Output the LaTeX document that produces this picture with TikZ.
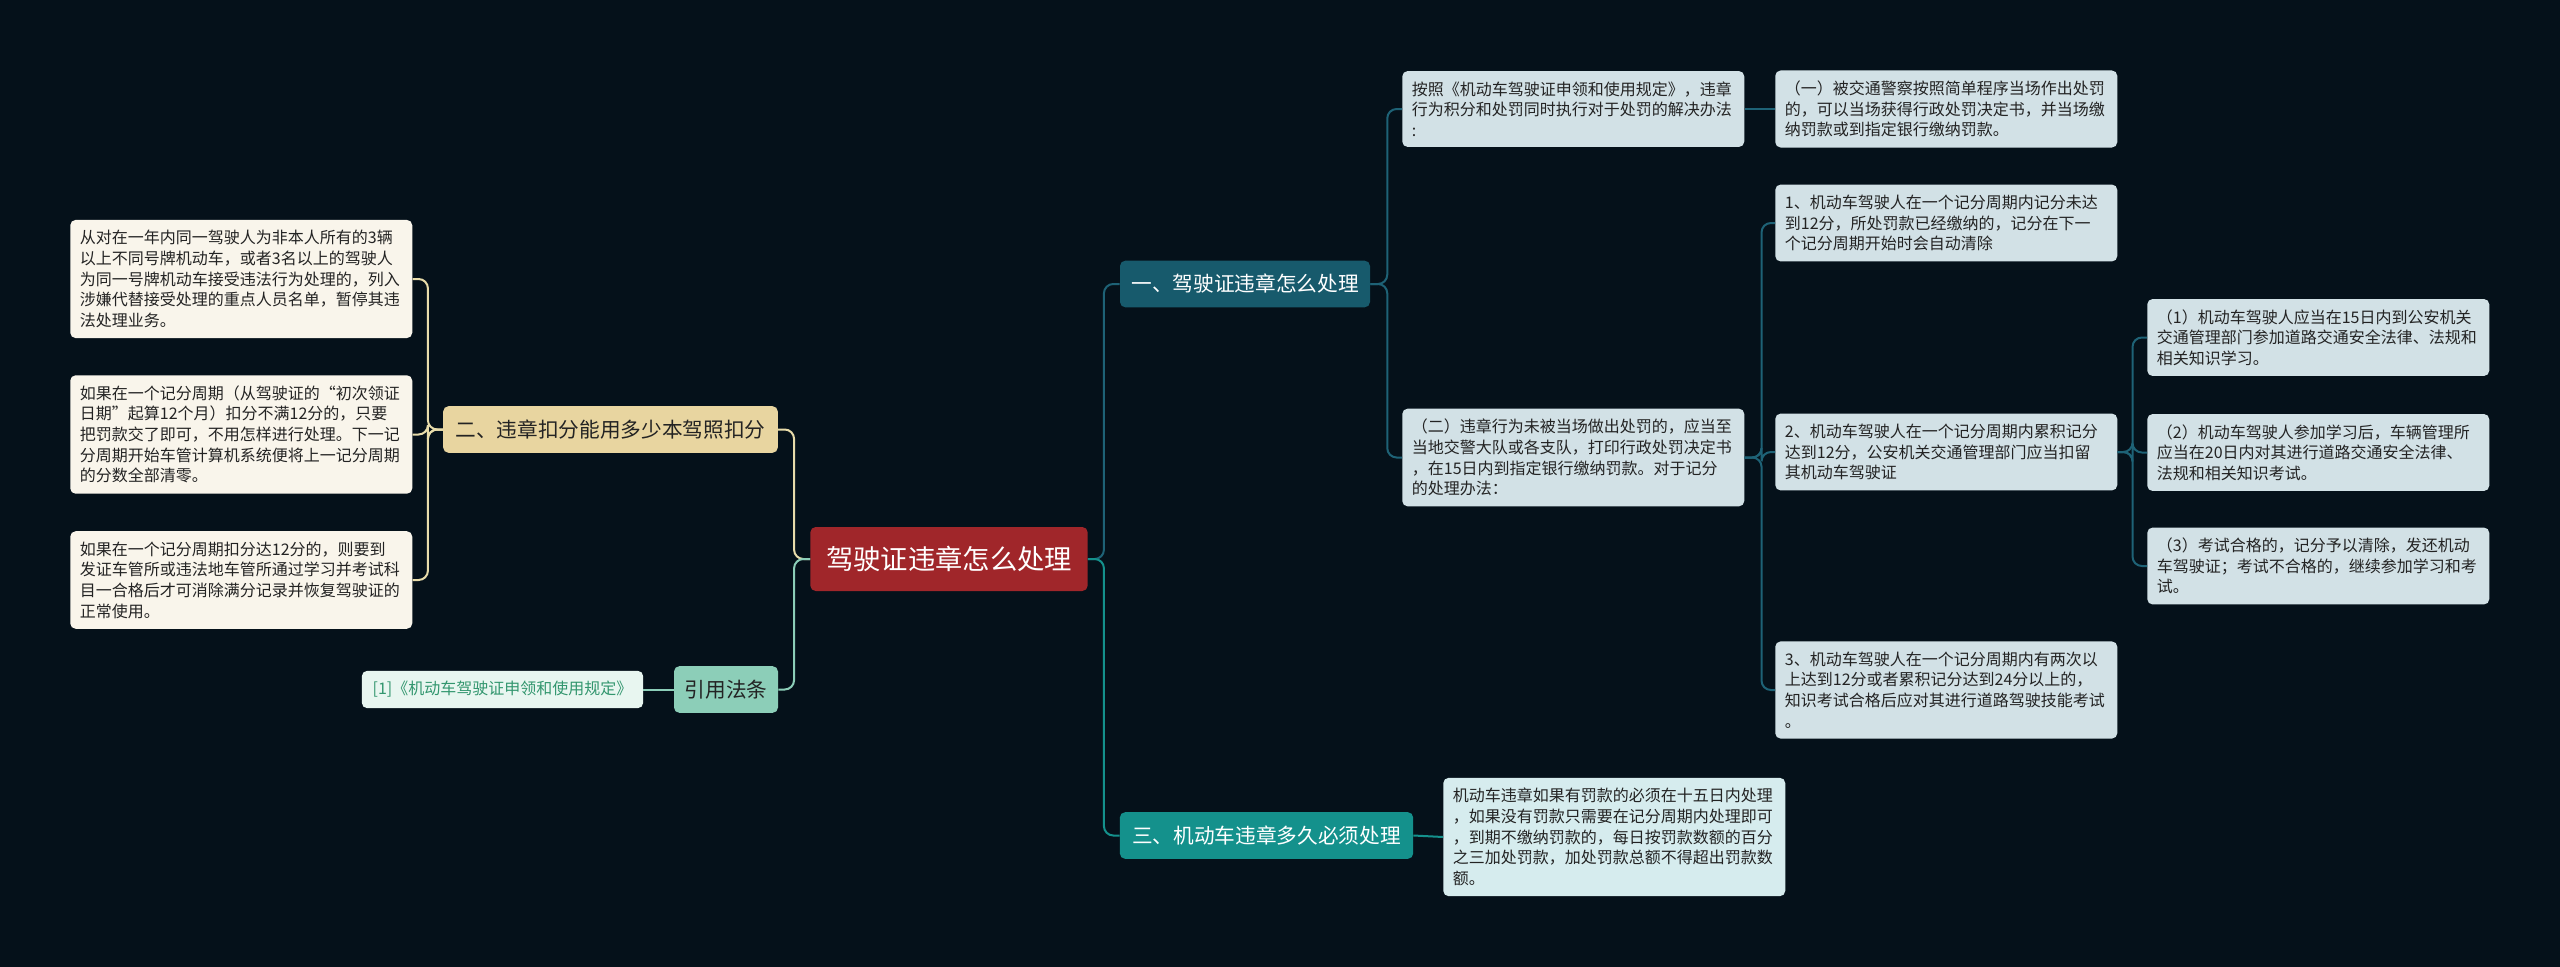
\documentclass[tikz,border=0pt]{standalone}
\usepackage{fontspec}
\setmainfont{Noto Sans CJK SC}
\usetikzlibrary{positioning,calc}
\definecolor{bgnavy}{RGB}{5,17,26}
\definecolor{rootred}{RGB}{160,38,42}
\definecolor{topicdark}{RGB}{23,90,108}
\definecolor{topicteal}{RGB}{20,145,140}
\definecolor{topictan}{RGB}{232,213,160}
\definecolor{topicmint}{RGB}{140,206,184}
\definecolor{linedark}{RGB}{30,98,118}
\definecolor{linetan}{RGB}{232,220,170}
\definecolor{leafblue}{RGB}{210,225,230}
\definecolor{leafcyan}{RGB}{214,236,238}
\definecolor{leafcream}{RGB}{249,245,235}
\definecolor{leafmint}{RGB}{232,246,240}
\definecolor{refgreen}{RGB}{50,150,110}
\definecolor{inkdark}{RGB}{35,35,35}
\tikzset{
  rootbox/.style={rounded corners=4pt, fill=rootred, text=white, minimum width=208pt, minimum height=48pt,
                  font=\fontsize{20.5}{24}\selectfont},
  topicbox/.style={rounded corners=4pt, minimum height=35pt, inner xsep=6pt, font=\fontsize{15.5}{18}\selectfont},
  leafbox/.style={rounded corners=4pt, fill=leafblue, text=inkdark, text width=242pt, align=left,
                  inner xsep=7.25pt, inner ysep=7.75pt, anchor=west, font=\fontsize{12}{15.5}\selectfont},
  link/.style={line width=1.5pt, rounded corners=7pt},
  linkdark/.style={link, draw=linedark},
  linkteal/.style={link, draw=topicteal},
  linktan/.style={link, draw=linetan},
  linkmint/.style={link, draw=topicmint},
}
\begin{document}
\begin{tikzpicture}[x=0.75pt, y=-0.75pt]
    \fill[bgnavy] (0,0) rectangle (2560,967);
    \useasboundingbox (0,0) rectangle (2560,967);
    \node[rootbox] (root) at (949,559) {驾驶证违章怎么处理};
    \node[topicbox, fill=topicdark, text=white, minimum width=187.5pt] (one) at (1245,284) {一、驾驶证违章怎么处理};
    \node[topicbox, fill=topictan, text=inkdark, minimum width=251pt] (two) at (610.5,429.5) {二、违章扣分能用多少本驾照扣分};
    \node[topicbox, fill=topicteal, text=white, minimum width=220pt] (three) at (1266.5,835.5) {三、机动车违章多久必须处理};
    \node[topicbox, fill=topicmint, text=inkdark, minimum width=78pt] (cite) at (726,689.5) {引用法条};
    \node[rounded corners=4pt, fill=leafmint, text=refgreen, minimum width=211pt, minimum height=28pt,
          font=\fontsize{12}{15}\selectfont] (law) at (502.5,689.5) {[1]《机动车驾驶证申领和使用规定》};
    \node[leafbox, fill=leafcream] (cap) at (70,279) {从对在一年内同一驾驶人为非本人所有的3辆\\以上不同号牌机动车，或者3名以上的驾驶人\\为同一号牌机动车接受违法行为处理的，列入\\涉嫌代替接受处理的重点人员名单，暂停其违\\法处理业务。};
    \node[leafbox, fill=leafcream] (cycle) at (70,434.5) {如果在一个记分周期（从驾驶证的“初次领证\\日期”起算12个月）扣分不满12分的，只要\\把罚款交了即可，不用怎样进行处理。下一记\\分周期开始车管计算机系统便将上一记分周期\\的分数全部清零。};
    \node[leafbox, fill=leafcream] (full) at (70,580) {如果在一个记分周期扣分达12分的，则要到\\发证车管所或违法地车管所通过学习并考试科\\目一合格后才可消除满分记录并恢复驾驶证的\\正常使用。};
    \node[leafbox] (rule) at (1402,109) {按照《机动车驾驶证申领和使用规定》，违章\\行为积分和处罚同时执行对于处罚的解决办法\\:};
    \node[leafbox] (spot) at (1775,109) {（一）被交通警察按照简单程序当场作出处罚\\的，可以当场获得行政处罚决定书，并当场缴\\纳罚款或到指定银行缴纳罚款。};
    \node[leafbox] (late) at (1402,457.5) {（二）违章行为未被当场做出处罚的，应当至\\当地交警大队或各支队，打印行政处罚决定书\\，在15日内到指定银行缴纳罚款。对于记分\\的处理办法：};
    \node[leafbox] (pt1) at (1775,223) {1、机动车驾驶人在一个记分周期内记分未达\\到12分，所处罚款已经缴纳的，记分在下一\\个记分周期开始时会自动清除};
    \node[leafbox] (pt2) at (1775,452) {2、机动车驾驶人在一个记分周期内累积记分\\达到12分，公安机关交通管理部门应当扣留\\其机动车驾驶证};
    \node[leafbox] (pt3) at (1775,690) {3、机动车驾驶人在一个记分周期内有两次以\\上达到12分或者累积记分达到24分以上的，\\知识考试合格后应对其进行道路驾驶技能考试\\。};
    \node[leafbox] (study) at (2147,337.5) {（1）机动车驾驶人应当在15日内到公安机关\\交通管理部门参加道路交通安全法律、法规和\\相关知识学习。};
    \node[leafbox] (exam) at (2147,452.5) {（2）机动车驾驶人参加学习后，车辆管理所\\应当在20日内对其进行道路交通安全法律、\\法规和相关知识考试。};
    \node[leafbox] (pass) at (2147,566) {（3）考试合格的，记分予以清除，发还机动\\车驾驶证；考试不合格的，继续参加学习和考\\试。};
    \node[leafbox, fill=leafcyan] (limit) at (1443,837) {机动车违章如果有罚款的必须在十五日内处理\\，如果没有罚款只需要在记分周期内处理即可\\，到期不缴纳罚款的，每日按罚款数额的百分\\之三加处罚款，加处罚款总额不得超出罚款数\\额。};
    \draw[linkdark] (root.east) -- ++(16,0) |- (one.west);
    \draw[linkteal] (root.east) -- ++(16,0) |- (three.west);
    \draw[linktan] (root.west) -- ++(-16,0) |- (two.east);
    \draw[linkmint] (root.west) -- ++(-16,0) |- (cite.east);
    \draw[linkmint] (cite.west) -- (law.east);
    \draw[linktan] (two.west) -- ++(-15,0) |- (cap.east);
    \draw[linktan] (two.west) -- ++(-15,0) |- (cycle.east);
    \draw[linktan] (two.west) -- ++(-15,0) |- (full.east);
    \draw[linkdark] (one.east) -- ++(17,0) |- (rule.west);
    \draw[linkdark] (one.east) -- ++(17,0) |- (late.west);
    \draw[linkdark] (rule.east) -- (spot.west);
    \draw[linkdark] (late.east) -- ++(17,0) |- (pt1.west);
    \draw[linkdark] (late.east) -- ++(17,0) |- (pt2.west);
    \draw[linkdark] (late.east) -- ++(17,0) |- (pt3.west);
    \draw[linkdark] (pt2.east) -- ++(15,0) |- (study.west);
    \draw[linkdark] (pt2.east) -- ++(15,0) |- (exam.west);
    \draw[linkdark] (pt2.east) -- ++(15,0) |- (pass.west);
    \draw[linkteal] (three.east) -- (limit.west);
\end{tikzpicture}
\end{document}
